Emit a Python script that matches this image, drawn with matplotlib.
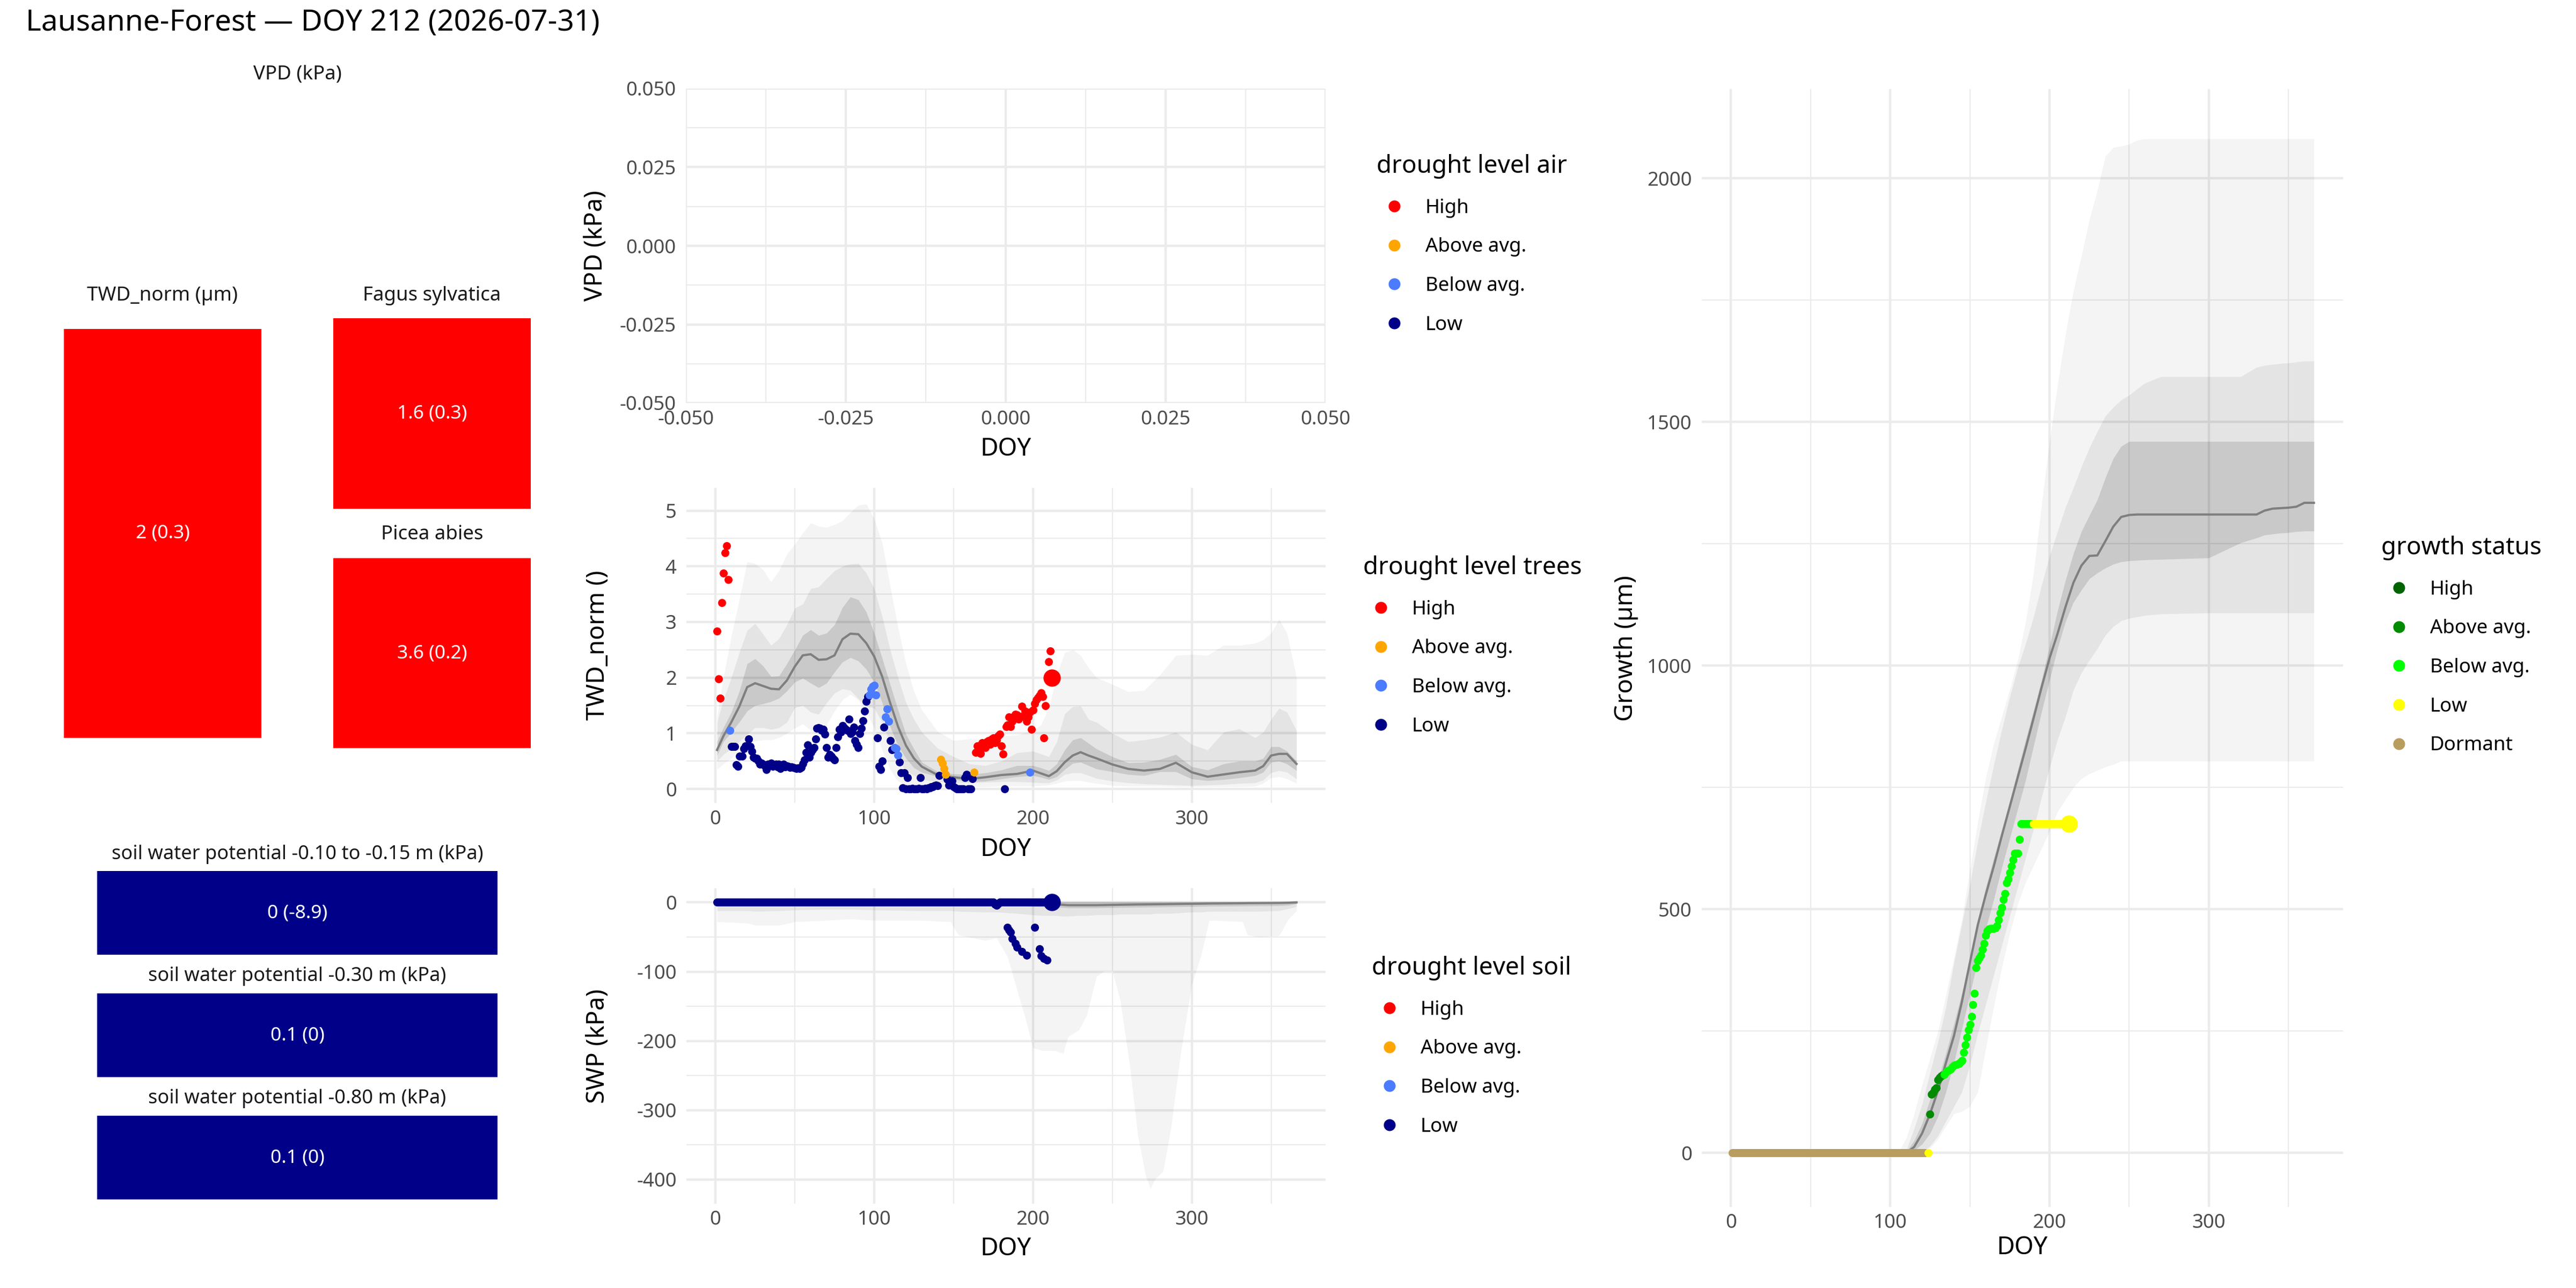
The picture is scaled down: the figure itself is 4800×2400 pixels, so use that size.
import matplotlib
matplotlib.use("Agg")
import matplotlib.pyplot as plt
from matplotlib.lines import Line2D

plt.rcParams["font.family"] = ["Noto Sans", "DejaVu Sans"]
plt.rcParams["axes.unicode_minus"] = False

# ---------------- data ----------------
plot_title = "Lausanne-Forest \u2014 DOY 212 (2026-07-31)"

levels = ["High", "Above avg.", "Below avg.", "Low"]
level_colors = {"High": "#FF0000", "Above avg.": "#FFA500",
                "Below avg.": "#4B7BFF", "Low": "#000088"}
growth_levels = ["High", "Above avg.", "Below avg.", "Low", "Dormant"]
growth_colors = {"High": "#006400", "Above avg.": "#008B00",
                 "Below avg.": "#00FF00", "Low": "#FFFF00", "Dormant": "#B99D5E"}

# summary tiles (value (deviation))
tree_tiles = ["TWD_norm (\u00b5m)", "Fagus sylvatica", "Picea abies"]
tree_tile_value = [2, 1.6, 3.6]
tree_tile_dev = [0.3, 0.3, 0.2]
tree_tile_level = ["High", "High", "High"]

soil_tiles = ["soil water potential -0.10 to -0.15 m (kPa)",
              "soil water potential -0.30 m (kPa)",
              "soil water potential -0.80 m (kPa)"]
soil_tile_value = [0, 0.1, 0.1]
soil_tile_dev = [-8.9, 0, 0]
soil_tile_level = ["Low", "Low", "Low"]

# TWD_norm climatology bands
twd_band_doy = [1, 5, 10, 15, 20, 25, 30, 35, 40, 45,
                50, 55, 60, 65, 70, 75, 80, 85, 90, 95,
                100, 105, 110, 115, 120, 125, 130, 140, 150, 160,
                170, 180, 190, 200, 205, 210, 215, 220, 225, 230,
                235, 240, 250, 260, 270, 280, 290, 300, 310, 320,
                330, 340, 345, 350, 355, 360, 366]
twd_median = [0.70, 0.95, 1.20, 1.48, 1.83, 1.90, 1.85, 1.80, 1.79, 1.95,
              2.20, 2.40, 2.42, 2.32, 2.33, 2.40, 2.69, 2.79, 2.78, 2.62,
              2.38, 2.02, 1.55, 1.12, 0.78, 0.55, 0.40, 0.25, 0.21, 0.18,
              0.21, 0.25, 0.27, 0.33, 0.28, 0.23, 0.32, 0.48, 0.60, 0.66,
              0.60, 0.55, 0.44, 0.36, 0.33, 0.36, 0.47, 0.30, 0.22, 0.26,
              0.30, 0.33, 0.41, 0.60, 0.63, 0.63, 0.45]
twd_dark_hi = [0.85, 1.10, 1.38, 1.75, 2.25, 2.34, 2.21, 2.02, 2.03, 2.25,
               2.50, 2.76, 2.86, 2.76, 2.80, 2.95, 3.26, 3.45, 3.40, 3.18,
               2.80, 2.35, 1.88, 1.42, 0.98, 0.72, 0.48, 0.31, 0.27, 0.26,
               0.29, 0.34, 0.42, 0.42, 0.38, 0.33, 0.45, 0.70, 0.88, 0.92,
               0.82, 0.72, 0.58, 0.47, 0.48, 0.53, 0.62, 0.40, 0.34, 0.45,
               0.50, 0.50, 0.55, 0.76, 0.76, 0.68, 0.50]
twd_dark_lo = [0.60, 0.85, 1.02, 1.20, 1.40, 1.50, 1.53, 1.57, 1.63, 1.76,
               1.92, 1.99, 1.90, 1.82, 1.90, 2.10, 2.28, 2.36, 2.30, 2.15,
               1.92, 1.55, 1.12, 0.78, 0.55, 0.38, 0.30, 0.22, 0.17, 0.13,
               0.14, 0.18, 0.22, 0.24, 0.21, 0.17, 0.22, 0.35, 0.46, 0.48,
               0.42, 0.36, 0.31, 0.26, 0.24, 0.31, 0.31, 0.18, 0.15, 0.17,
               0.20, 0.24, 0.30, 0.48, 0.50, 0.45, 0.33]
twd_mid_hi = [1.20, 1.60, 2.00, 2.45, 2.85, 2.97, 2.78, 2.58, 2.70, 2.95,
              3.25, 3.32, 3.60, 3.63, 3.78, 3.92, 4.00, 4.04, 4.05, 3.88,
              3.60, 3.10, 2.50, 2.00, 1.55, 1.25, 1.02, 0.73, 0.58, 0.45,
              0.42, 0.50, 0.65, 0.68, 0.63, 0.58, 0.85, 1.35, 1.48, 1.49,
              1.25, 1.20, 1.00, 0.85, 0.88, 0.93, 1.02, 0.80, 0.70, 1.02,
              1.08, 0.92, 1.02, 1.25, 1.45, 1.38, 1.05]
twd_mid_lo = [0.50, 0.62, 0.72, 0.85, 0.98, 1.10, 1.10, 1.07, 1.10, 1.20,
              1.46, 1.50, 1.38, 1.34, 1.55, 1.72, 1.80, 1.77, 1.62, 1.48,
              1.45, 1.20, 0.82, 0.52, 0.32, 0.24, 0.17, 0.13, 0.11, 0.11,
              0.12, 0.13, 0.13, 0.12, 0.11, 0.11, 0.16, 0.26, 0.29, 0.29,
              0.24, 0.19, 0.14, 0.11, 0.09, 0.08, 0.07, 0.06, 0.07, 0.08,
              0.10, 0.11, 0.16, 0.29, 0.33, 0.30, 0.18]
twd_out_hi = [1.30, 2.00, 2.75, 3.40, 4.08, 4.05, 3.94, 3.72, 3.92, 4.22,
              4.40, 4.60, 4.78, 4.72, 4.70, 4.75, 4.82, 4.97, 5.10, 5.12,
              4.85, 4.42, 3.65, 2.90, 2.25, 1.75, 1.42, 1.03, 0.87, 0.90,
              0.88, 0.95, 0.97, 1.05, 1.15, 1.45, 2.05, 2.45, 2.50, 2.40,
              2.18, 2.00, 1.88, 1.75, 1.77, 2.05, 2.40, 2.42, 2.40, 2.58,
              2.58, 2.62, 2.68, 2.80, 3.05, 2.80, 2.00]
twd_out_lo = [0.35, 0.45, 0.55, 0.70, 0.82, 0.86, 0.88, 0.88, 0.92, 1.00,
              1.09, 1.17, 1.05, 0.97, 1.15, 1.40, 1.60, 1.70, 1.60, 1.38,
              1.10, 0.70, 0.35, 0.14, 0.07, 0.05, 0.04, 0.04, 0.04, 0.04,
              0.04, 0.05, 0.05, 0.05, 0.06, 0.07, 0.10, 0.14, 0.15, 0.15,
              0.12, 0.10, 0.06, 0.05, 0.05, 0.05, 0.04, 0.04, 0.04, 0.04,
              0.04, 0.05, 0.10, 0.20, 0.22, 0.18, 0.10]

# TWD_norm daily points (DOY, value) per drought level
twd_high = [(1, 2.84), (2, 1.98), (3, 1.63), (4, 3.35), (5, 3.88), (6, 4.24),
            (7, 4.37), (8, 3.76), (164, 0.66), (165, 0.77), (166, 0.70),
            (167, 0.64), (168, 0.83), (169, 0.78), (170, 0.74), (171, 0.85),
            (172, 0.87), (173, 0.80), (174, 0.90), (175, 0.92), (176, 0.83),
            (177, 0.88), (178, 0.96), (179, 0.98), (180, 0.77), (181, 0.63),
            (183, 1.12), (184, 1.15), (185, 1.29), (186, 1.12), (187, 1.22),
            (188, 1.30), (189, 1.34), (190, 1.33), (191, 1.25), (192, 1.30),
            (193, 1.49), (194, 1.30), (195, 1.40), (196, 1.22), (197, 1.29),
            (198, 1.38), (199, 1.07), (200, 1.42), (201, 1.53), (202, 1.60),
            (203, 1.64), (204, 1.68), (205, 1.73), (206, 1.66), (207, 0.92),
            (208, 1.50), (210, 2.29), (211, 2.48)]
twd_above = [(142, 0.53), (143, 0.46), (144, 0.37), (145, 0.26), (163, 0.30)]
twd_below = [(9, 1.05), (97, 1.69), (98, 1.79), (99, 1.84), (100, 1.86),
             (101, 1.69), (107, 1.29), (108, 1.44), (109, 1.22), (113, 0.74),
             (114, 0.72), (115, 0.61), (198, 0.30)]
twd_low = [(10, 0.76), (11, 0.76), (12, 0.76), (13, 0.43), (14, 0.41), (15, 0.59),
           (17, 0.59), (18, 0.72), (19, 0.77), (21, 0.90), (22, 0.76), (23, 0.68),
           (24, 0.57), (25, 0.55), (26, 0.55), (27, 0.50), (28, 0.44), (29, 0.46),
           (30, 0.44), (31, 0.42), (32, 0.35), (33, 0.44), (34, 0.42), (35, 0.46),
           (36, 0.41), (37, 0.43), (38, 0.44), (39, 0.40), (40, 0.44), (41, 0.37),
           (42, 0.42), (43, 0.44), (44, 0.40), (45, 0.42), (46, 0.41), (47, 0.39),
           (48, 0.40), (49, 0.39), (50, 0.38), (51, 0.37), (52, 0.38), (53, 0.37),
           (54, 0.39), (55, 0.45), (56, 0.52), (57, 0.66), (58, 0.79), (59, 0.57),
           (60, 0.66), (61, 0.70), (62, 0.74), (63, 0.90), (64, 1.09), (65, 1.10),
           (66, 1.09), (67, 1.05), (68, 1.07), (69, 0.98), (70, 0.74), (71, 0.57),
           (72, 0.62), (73, 0.59), (74, 0.55), (75, 0.52), (76, 0.74), (77, 0.94),
           (78, 1.07), (79, 1.02), (80, 1.14), (81, 1.10), (82, 1.07), (83, 1.05),
           (84, 1.25), (85, 0.99), (86, 1.02), (87, 1.11), (88, 0.87), (89, 0.80),
           (90, 0.74), (91, 0.99), (92, 1.09), (93, 1.23), (94, 1.40), (95, 1.57),
           (96, 1.66), (102, 0.92), (103, 0.41), (104, 0.35), (105, 0.50), (106, 1.11),
           (110, 0.87), (111, 0.70), (116, 0.48), (117, 0.29), (118, 0.02), (119, 0.29),
           (120, 0.00), (121, 0.20), (122, 0.00), (123, 0.00), (124, 0.01), (125, 0.00),
           (126, 0.00), (127, 0.00), (128, 0.01), (129, 0.20), (130, 0.00), (131, 0.00),
           (132, 0.01), (133, 0.00), (134, 0.02), (135, 0.02), (136, 0.04), (137, 0.04),
           (138, 0.06), (139, 0.07), (140, 0.06), (141, 0.24), (146, 0.17), (147, 0.07),
           (148, 0.12), (149, 0.15), (150, 0.04), (151, 0.02), (152, 0.00), (153, 0.00),
           (154, 0.00), (155, 0.00), (156, 0.00), (157, 0.20), (158, 0.26), (159, 0.00),
           (160, 0.00), (161, 0.00), (162, 0.18), (182, 0.00)]
twd_today = (212, 2.0, "High")

# soil water potential climatology bands (kPa)
swp_band_doy = [1, 20, 25, 40, 50, 70, 85, 100, 130, 148,
                153, 170, 177, 184, 190, 195, 200, 206, 214, 219,
                222, 229, 234, 240, 245, 250, 255, 261, 266, 271,
                274, 277, 282, 287, 293, 300, 306, 311, 316, 332,
                335, 342, 355, 361, 366]
swp_median = [0, 0, 0, 0, 0, 0, 0, 0, 0, 0,
              0, 0, -0.5, -1, -1, -1.5, -2, -2.5, -3, -3.5,
              -4, -4, -4, -4, -3.8, -3.6, -3.4, -3.2, -3.0, -2.9,
              -2.8, -2.7, -2.6, -2.4, -2.2, -2.0, -1.8, -1.6, -1.5, -1.2,
              -1.1, -1.0, -0.8, -0.5, 0.0]
swp_upper = [1, 1, 1, 1, 1, 1, 1, 1, 1, 1,
             1, 1, 1, 1, 1, 1, 1, 1, 1, 1,
             1, 1, 1, 1, 1, 1, 1, 1, 1, 1,
             1, 1, 1, 1, 1, 1, 1, 1, 1, 1,
             1, 1, 1, 1, 1]
swp_dark_lo = [-3, -3, -3, -3, -3, -3, -3, -3, -3, -3,
               -3, -3.5, -4, -4.5, -5, -5.5, -6, -6.5, -7, -7.5,
               -8, -8, -8, -8, -7.8, -7.6, -7.4, -7.2, -7, -6.9,
               -6.8, -6.7, -6.6, -6.4, -6.2, -6, -5.8, -5.6, -5.5, -5.2,
               -5.1, -5, -4.8, -4, -2]
swp_mid_lo = [-12, -12, -13, -12, -11, -10, -10, -11, -12, -12,
              -13, -14, -14, -15, -16, -17, -18, -19, -19, -20,
              -20, -19, -19, -18, -18, -18, -17, -17, -17, -17,
              -17, -16, -16, -16, -15, -14, -14, -13, -13, -13,
              -13, -13, -12, -9, -6]
swp_out_lo = [-28, -30, -33, -33, -28, -26, -24, -26, -26, -28,
              -47, -55, -51, -79, -127, -166, -210, -214, -214, -218,
              -194, -184, -162, -107, -99, -99, -142, -237, -336, -395,
              -413, -399, -388, -324, -218, -119, -75, -26, -26, -28,
              -47, -50, -48, -24, -12]

# soil water potential daily points (all depths are "Low")
swp_row_doy = [
    1, 2, 3, 4, 5, 6, 7, 8, 9, 10, 11, 12, 13, 14, 15, 16, 17, 18, 19, 20,
    21, 22, 23, 24, 25, 26, 27, 28, 29, 30, 31, 32, 33, 34, 35, 36, 37, 38, 39, 40,
    41, 42, 43, 44, 45, 46, 47, 48, 49, 50, 51, 52, 53, 54, 55, 56, 57, 58, 59, 60,
    61, 62, 63, 64, 65, 66, 67, 68, 69, 70, 71, 72, 73, 74, 75, 76, 77, 78, 79, 80,
    81, 82, 83, 84, 85, 86, 87, 88, 89, 90, 91, 92, 93, 94, 95, 96, 97, 98, 99, 100,
    101, 102, 103, 104, 105, 106, 107, 108, 109, 110, 111, 112, 113, 114, 115, 116, 117, 118, 119, 120,
    121, 122, 123, 124, 125, 126, 127, 128, 129, 130, 131, 132, 133, 134, 135, 136, 137, 138, 139, 140,
    141, 142, 143, 144, 145, 146, 147, 148, 149, 150, 151, 152, 153, 154, 155, 156, 157, 158, 159, 160,
    161, 162, 163, 164, 165, 166, 167, 168, 169, 170, 171, 172, 173, 174, 175, 176, 177, 178, 179, 180,
    181, 182, 183, 184, 185, 186, 187, 188, 189, 190, 191, 192, 193, 194, 195, 196, 197, 198, 199, 200,
    201, 202, 203, 204, 205, 206, 207, 208, 209, 210, 211]
swp_row_kpa = [
    0, 0, 0, 0, 0, 0, 0, 0, 0, 0, 0, 0, 0, 0, 0, 0, 0, 0, 0, 0,
    0, 0, 0, 0, 0, 0, 0, 0, 0, 0, 0, 0, 0, 0, 0, 0, 0, 0, 0, 0,
    0, 0, 0, 0, 0, 0, 0, 0, 0, 0, 0, 0, 0, 0, 0, 0, 0, 0, 0, 0,
    0, 0, 0, 0, 0, 0, 0, 0, 0, 0, 0, 0, 0, 0, 0, 0, 0, 0, 0, 0,
    0, 0, 0, 0, 0, 0, 0, 0, 0, 0, 0, 0, 0, 0, 0, 0, 0, 0, 0, 0,
    0, 0, 0, 0, 0, 0, 0, 0, 0, 0, 0, 0, 0, 0, 0, 0, 0, 0, 0, 0,
    0, 0, 0, 0, 0, 0, 0, 0, 0, 0, 0, 0, 0, 0, 0, 0, 0, 0, 0, 0,
    0, 0, 0, 0, 0, 0, 0, 0, 0, 0, 0, 0, 0, 0, 0, 0, 0, 0, 0, 0,
    0, 0, 0, 0, 0, 0, 0, 0, 0, 0, 0, 0, 0, 0, 0, -3, -4, -2, 0, 0,
    0, 0, 0, 0, 0, 0, 0, 0, 0, 0, 0, 0, 0, 0, 0, 0, 0, 0, 0, 0,
    0, 0, 0, 0, 0, 0, 0, 0, 0, 0, 0]
swp_drop = [(184, -36), (185, -40), (186, -43), (187, -52), (189, -59), (190, -65),
            (193, -71), (196, -76), (201, -36), (204, -67), (205, -77), (207, -81),
            (209, -83)]
swp_today = (212, 0, "Low")

# cumulative growth climatology bands (um)
gr_band_doy = [0, 105, 110, 115, 120, 125, 130, 135, 140, 145,
               150, 155, 160, 165, 170, 175, 180, 185, 190, 195,
               200, 205, 210, 215, 220, 225, 230, 235, 240, 245,
               250, 255, 260, 270, 300, 320, 330, 335, 340, 345,
               350, 355, 360, 366]
gr_median = [0, 0, 0, 12, 40, 80, 128, 185, 240, 310,
             390, 468, 530, 588, 650, 710, 770, 830, 892, 955,
             1015, 1065, 1120, 1170, 1205, 1225, 1226, 1255, 1285, 1305,
             1309, 1310, 1310, 1310, 1310, 1310, 1310, 1318, 1322, 1323,
             1324, 1326, 1334, 1334]
gr_dark_hi = [0, 0, 2, 25, 60, 110, 150, 205, 265, 328,
              400, 475, 545, 605, 662, 720, 785, 848, 908, 970,
              1040, 1112, 1175, 1230, 1275, 1308, 1340, 1385, 1425, 1450,
              1460, 1460, 1460, 1460, 1460, 1460, 1460, 1460, 1460, 1460,
              1460, 1460, 1460, 1460]
gr_dark_lo = [0, 0, 0, 5, 18, 40, 75, 125, 185, 255,
              325, 395, 460, 520, 585, 645, 705, 765, 835, 905,
              970, 1035, 1090, 1130, 1155, 1178, 1190, 1200, 1208, 1213,
              1215, 1216, 1217, 1218, 1221, 1252, 1262, 1268, 1270, 1272,
              1273, 1275, 1276, 1276]
gr_mid_hi = [0, 0, 5, 50, 100, 165, 228, 300, 390, 470,
             550, 640, 720, 796, 868, 935, 995, 1045, 1100, 1165,
             1225, 1275, 1325, 1365, 1408, 1447, 1480, 1512, 1530, 1545,
             1555, 1568, 1580, 1593, 1593, 1593, 1612, 1616, 1618, 1620,
             1621, 1623, 1625, 1625]
gr_mid_lo = [0, 0, 0, 0, 2, 14, 35, 65, 95, 125,
             180, 245, 305, 365, 425, 485, 545, 605, 665, 730,
             790, 848, 895, 950, 985, 1011, 1035, 1062, 1080, 1092,
             1097, 1100, 1103, 1106, 1108, 1108, 1108, 1108, 1108, 1108,
             1108, 1108, 1108, 1108]
gr_out_hi = [0, 0, 30, 80, 140, 195, 250, 325, 400, 480,
             580, 680, 770, 840, 895, 950, 1010, 1090, 1190, 1330,
             1460, 1575, 1680, 1770, 1840, 1915, 1975, 2045, 2063, 2066,
             2070, 2078, 2081, 2081, 2081, 2081, 2081, 2081, 2081, 2081,
             2081, 2081, 2081, 2081]
gr_out_lo = [0, 0, 0, 0, 2, 10, 28, 55, 80, 85,
             95, 125, 215, 300, 380, 450, 510, 555, 590, 625,
             660, 700, 725, 750, 768, 778, 785, 792, 797, 804,
             804, 804, 804, 804, 804, 804, 804, 804, 804, 804,
             804, 804, 804, 804]

# growth daily points
gr_dormant_doy = [
    1, 2, 3, 4, 5, 6, 7, 8, 9, 10, 11, 12, 13, 14, 15, 16, 17, 18, 19, 20,
    21, 22, 23, 24, 25, 26, 27, 28, 29, 30, 31, 32, 33, 34, 35, 36, 37, 38, 39, 40,
    41, 42, 43, 44, 45, 46, 47, 48, 49, 50, 51, 52, 53, 54, 55, 56, 57, 58, 59, 60,
    61, 62, 63, 64, 65, 66, 67, 68, 69, 70, 71, 72, 73, 74, 75, 76, 77, 78, 79, 80,
    81, 82, 83, 84, 85, 86, 87, 88, 89, 90, 91, 92, 93, 94, 95, 96, 97, 98, 99, 100,
    101, 102, 103, 104, 105, 106, 107, 108, 109, 110, 111, 112, 113, 114, 115, 116, 117, 118, 119, 120,
    121, 122]
gr_dormant_um = [
    0, 0, 0, 0, 0, 0, 0, 0, 0, 0, 0, 0, 0, 0, 0, 0, 0, 0, 0, 0,
    0, 0, 0, 0, 0, 0, 0, 0, 0, 0, 0, 0, 0, 0, 0, 0, 0, 0, 0, 0,
    0, 0, 0, 0, 0, 0, 0, 0, 0, 0, 0, 0, 0, 0, 0, 0, 0, 0, 0, 0,
    0, 0, 0, 0, 0, 0, 0, 0, 0, 0, 0, 0, 0, 0, 0, 0, 0, 0, 0, 0,
    0, 0, 0, 0, 0, 0, 0, 0, 0, 0, 0, 0, 0, 0, 0, 0, 0, 0, 0, 0,
    0, 0, 0, 0, 0, 0, 0, 0, 0, 0, 0, 0, 0, 0, 0, 0, 0, 0, 0, 0,
    0, 0]
gr_above = [(125, 79), (126, 120), (127, 124), (128, 130), (129, 134), (130, 150),
            (131, 154), (132, 158), (133, 160)]
gr_below = [(134, 161), (135, 165), (136, 169), (137, 170), (138, 172), (139, 176),
            (140, 180), (141, 181), (142, 182), (143, 183), (144, 186), (145, 190),
            (146, 206), (147, 222), (148, 237), (149, 252), (150, 263), (151, 280),
            (152, 304), (153, 327), (154, 380), (155, 394), (156, 400), (157, 405),
            (158, 418), (159, 430), (160, 446), (161, 456), (162, 460), (163, 461),
            (164, 461), (165, 461), (166, 462), (167, 466), (168, 478), (169, 492),
            (170, 503), (171, 520), (172, 532), (173, 554), (174, 562), (175, 575),
            (176, 588), (177, 602), (178, 615), (179, 615), (180, 615), (181, 643),
            (182, 675), (183, 675), (184, 675), (185, 675), (186, 675), (187, 675),
            (188, 675), (189, 675)]
gr_low = [(124, 0), (190, 675), (191, 675), (192, 675), (193, 675), (194, 675),
          (195, 675), (196, 675), (197, 675), (198, 675), (199, 675), (200, 675),
          (201, 675), (202, 675), (203, 675), (204, 675), (205, 675), (206, 675),
          (207, 675), (208, 675), (209, 675), (210, 675), (211, 675)]
gr_today = (212, 675, "Low")

# ---------------- figure ----------------
W, H = 4800, 2400
fig = plt.figure(figsize=(16, 8), dpi=300)


def box(x0, y0, x1, y1):
    # pixel box (top-left origin) -> figure rect
    return [x0 / W, 1 - y1 / H, (x1 - x0) / W, (y1 - y0) / H]


def gg_axes(rect, xlim, ylim, xmaj, xmin, ymaj, ymin):
    ax = fig.add_axes(rect)
    ax.set_xlim(*xlim)
    ax.set_ylim(*ylim)
    ax.set_xticks(xmaj)
    ax.set_xticks(xmin, minor=True)
    ax.set_yticks(ymaj)
    ax.set_yticks(ymin, minor=True)
    ax.grid(True, which="major", color="#EBEBEB", linewidth=1.07)
    ax.grid(True, which="minor", color="#EBEBEB", linewidth=0.53)
    ax.set_axisbelow(True)
    for sp in ax.spines.values():
        sp.set_visible(False)
    ax.tick_params(which="both", length=0, labelsize=8.8, labelcolor="#4D4D4D")
    ax.tick_params(axis="x", pad=3)
    ax.tick_params(axis="y", pad=4.4)
    return ax


def axis_titles(ax, xlabel, ylabel, xl_y, yl_x):
    ax.set_xlabel(xlabel, fontsize=11, va="center")
    ax.xaxis.set_label_coords(0.5, xl_y)
    ax.set_ylabel(ylabel, fontsize=11, va="center")
    ax.yaxis.set_label_coords(yl_x, 0.5)


def bands(ax, doy, out_lo, out_hi, mid_lo, mid_hi, dark_lo, dark_hi, median):
    ax.fill_between(doy, out_lo, out_hi, color="black", alpha=0.045, lw=0, zorder=1)
    ax.fill_between(doy, mid_lo, mid_hi, color="black", alpha=0.064, lw=0, zorder=1.1)
    ax.fill_between(doy, dark_lo, dark_hi, color="black", alpha=0.118, lw=0, zorder=1.2)
    ax.plot(doy, median, color="#7F7F7F", lw=1.0, zorder=2)


def points(ax, pairs, color, size=13):
    xs = [p[0] for p in pairs]
    ys = [p[1] for p in pairs]
    ax.scatter(xs, ys, s=size, color=color, lw=0, zorder=3)


def add_legend(ax, title, names, palette, left_px, title_mid_px):
    handles = [Line2D([], [], linestyle="none", marker="o", markersize=5.3,
                      markerfacecolor=palette[n], markeredgewidth=0, label=n)
               for n in names]
    top = title_mid_px - 14
    ax.legend(handles=handles, title=title, loc="upper left",
              bbox_to_anchor=(left_px / W, 1 - top / H),
              bbox_transform=fig.transFigure, frameon=False,
              fontsize=8.8, title_fontsize=11, borderpad=0, borderaxespad=0,
              handlelength=1.8, handletextpad=0.68, labelspacing=1.0,
              alignment="left")


def tile(rect_px, title, title_mid, value, dev, level, title_fs):
    ax = fig.add_axes(box(*rect_px))
    ax.set_facecolor(level_colors[level])
    ax.set_xticks([])
    ax.set_yticks([])
    for sp in ax.spines.values():
        sp.set_visible(False)
    ax.text(0.5, 0.5, f"{value:g} ({dev:g})", transform=ax.transAxes,
            ha="center", va="center", color="white", fontsize=8.5)
    fig.text(title_mid[0] / W, 1 - title_mid[1] / H, title, ha="center",
             va="center", fontsize=title_fs, color="#1A1A1A")


# title
fig.text(48 / W, 1 - 43 / H, plot_title, ha="left", va="center", fontsize=13.2)

# ---- left: summary tiles ----
fig.text(554 / W, 1 - 139 / H, "VPD (kPa)", ha="center", va="center",
         fontsize=8.8, color="#1A1A1A")
tree_rects = [(119, 613, 487, 1375), (621, 593, 989, 948), (621, 1040, 989, 1394)]
tree_title_pos = [(303, 551), (805, 551), (805, 996)]
for i in range(len(tree_tiles)):
    tile(tree_rects[i], tree_tiles[i], tree_title_pos[i], tree_tile_value[i],
         tree_tile_dev[i], tree_tile_level[i], 8.8)

soil_rects = [(181, 1623, 927, 1779), (181, 1851, 927, 2007), (181, 2079, 927, 2235)]
soil_title_pos = [(554, 1592), (554, 1819), (554, 2047)]
for i in range(len(soil_tiles)):
    tile(soil_rects[i], soil_tiles[i], soil_title_pos[i], soil_tile_value[i],
         soil_tile_dev[i], soil_tile_level[i], 8.7)

doy_major = [0, 100, 200, 300]
doy_minor = [50, 150, 250, 350]
doy_lim = (-18.3, 384.3)

# ---- VPD (no data) ----
ax_vpd = gg_axes(box(1278, 165, 2470, 751), (-0.05, 0.05), (-0.05, 0.05),
                 [-0.05, -0.025, 0, 0.025, 0.05], [-0.0375, -0.0125, 0.0125, 0.0375],
                 [-0.05, -0.025, 0, 0.025, 0.05], [-0.0375, -0.0125, 0.0125, 0.0375])
ax_vpd.xaxis.set_major_formatter(lambda v, pos: f"{v:.3f}")
ax_vpd.yaxis.set_major_formatter(lambda v, pos: f"{v:.3f}")
axis_titles(ax_vpd, "DOY", "VPD (kPa)", -0.147, -0.141)
add_legend(ax_vpd, "drought level air", levels, level_colors, 2565, 301)

# ---- TWD_norm ----
ax_twd = gg_axes(box(1279, 909, 2470, 1496), doy_lim, (-0.25, 5.41),
                 doy_major, doy_minor, [0, 1, 2, 3, 4, 5], [0.5, 1.5, 2.5, 3.5, 4.5])
bands(ax_twd, twd_band_doy, twd_out_lo, twd_out_hi, twd_mid_lo, twd_mid_hi,
      twd_dark_lo, twd_dark_hi, twd_median)
points(ax_twd, twd_low, level_colors["Low"])
points(ax_twd, twd_below, level_colors["Below avg."])
points(ax_twd, twd_above, level_colors["Above avg."])
points(ax_twd, twd_high, level_colors["High"])
points(ax_twd, [twd_today[:2]], level_colors[twd_today[2]], size=60)
axis_titles(ax_twd, "DOY", "TWD_norm ()", -0.148, -0.1385)
add_legend(ax_twd, "drought level trees", levels, level_colors, 2540, 1049)

# ---- SWP ----
ax_swp = gg_axes(box(1279, 1655, 2470, 2243), doy_lim, (-435, 20.5),
                 doy_major, doy_minor, [-400, -300, -200, -100, 0],
                 [-350, -250, -150, -50])
bands(ax_swp, swp_band_doy, swp_out_lo, swp_upper, swp_mid_lo, swp_upper,
      swp_dark_lo, swp_upper, swp_median)
points(ax_swp, list(zip(swp_row_doy, swp_row_kpa)), level_colors["Low"])
points(ax_swp, swp_drop, level_colors["Low"])
points(ax_swp, [swp_today[:2]], level_colors[swp_today[2]], size=60)
axis_titles(ax_swp, "DOY", "SWP (kPa)", -0.143, -0.1385)
add_legend(ax_swp, "drought level soil", levels, level_colors, 2556, 1795)

# ---- growth ----
ax_gr = gg_axes(box(3171, 166, 4366, 2249), doy_lim, (-111, 2183),
                doy_major, doy_minor, [0, 500, 1000, 1500, 2000],
                [250, 750, 1250, 1750])
bands(ax_gr, gr_band_doy, gr_out_lo, gr_out_hi, gr_mid_lo, gr_mid_hi,
      gr_dark_lo, gr_dark_hi, gr_median)
points(ax_gr, list(zip(gr_dormant_doy, gr_dormant_um)), growth_colors["Dormant"])
points(ax_gr, gr_above, growth_colors["Above avg."])
points(ax_gr, gr_below, growth_colors["Below avg."])
points(ax_gr, gr_low, growth_colors["Low"])
points(ax_gr, [gr_today[:2]], growth_colors[gr_today[2]], size=60)
axis_titles(ax_gr, "DOY", "Growth (\u00b5m)", -0.0365, -0.118)
add_legend(ax_gr, "growth status", growth_levels, growth_colors, 4437, 1012)

fig.savefig("out.png", dpi=300)
